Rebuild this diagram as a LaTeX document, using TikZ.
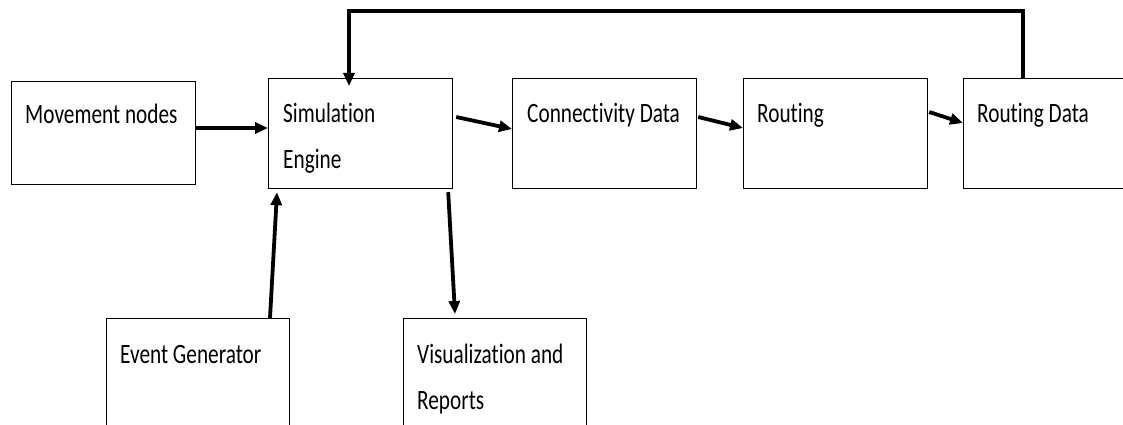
\documentclass[tikz,border=0pt]{standalone}
\usepackage{fontspec}
\setmainfont{Carlito}[FakeStretch=0.76,Ligatures=NoCommon]
\usetikzlibrary{arrows.meta,calc}
\begin{document}
\begin{tikzpicture}[x=1pt,y=-1pt,
  box/.style={draw, line width=1.2pt, inner sep=0pt, anchor=north west, minimum width=184pt, minimum height=110pt},
  lbl/.style={anchor=base west, inner sep=0pt, font=\fontsize{28}{46}\selectfont, align=left},
  arr/.style={line width=3.8pt, -{Triangle[length=13pt,width=11pt]}, line join=miter}]
\useasboundingbox (0,0) rectangle (1123,425);
\clip (0,0) rectangle (1123,425);
\fill[white] (0,0) rectangle (1123,425);
% boxes
\node[box, minimum height=103pt] (mv) at (11,81) {};
\node[box] (se) at (268,78) {};
\node[box] (cd) at (512,78) {};
\node[box] (rt) at (743,78) {};
\node[box] (rd) at (963,78) {};
\node[box, minimum width=183pt, minimum height=130pt] (eg) at (106,318) {};
\node[box, minimum width=183pt, minimum height=130pt] (vr) at (403,318) {};
% labels (multi-line labels are anchored at the baseline of their last line)
\node[lbl] (mvt) at ([xshift=14pt,yshift=-43pt]mv.north west) {Movement nodes};
\node[lbl] (set) at ([xshift=15pt,yshift=-90pt]se.north west) {Simulation\\Engine};
\node[lbl] (cdt) at ([xshift=15pt,yshift=-44pt]cd.north west) {Connectivity Data};
\node[lbl] (rtt) at ([xshift=14pt,yshift=-44pt]rt.north west) {Routing};
\node[lbl] (rdt) at ([xshift=14pt,yshift=-44pt]rd.north west) {Routing Data};
\node[lbl] (egt) at ([xshift=14pt,yshift=-45pt]eg.north west) {Event Generator};
\node[lbl] (vrt) at ([xshift=14pt,yshift=-91pt]vr.north west) {Visualization and\\Reports};
% connectors
\coordinate (fbtop) at (349,11);
\draw[arr] ([yshift=-47pt]mv.north east) -- ([yshift=-50pt]se.north west);
\draw[arr] ([xshift=3pt,yshift=-39pt]se.north east) -- ([yshift=-51pt]cd.north west);
\draw[arr] ([xshift=1pt,yshift=-39pt]cd.north east) -- ([yshift=-50pt]rt.north west);
\draw[arr] ([xshift=1pt,yshift=-34pt]rt.north east) -- ([yshift=-45pt]rd.north west);
\draw[arr] ([xshift=164pt]eg.north west) -- ([xshift=9pt,yshift=-3pt]se.south west);
\draw[arr] ([xshift=-5pt,yshift=-3pt]se.south east) -- ([xshift=52pt,yshift=4pt]vr.north west);
\draw[arr] ([xshift=60pt]rd.north west) |- (fbtop) -- ([xshift=81pt,yshift=-8pt]se.north west);
\end{tikzpicture}
\end{document}
